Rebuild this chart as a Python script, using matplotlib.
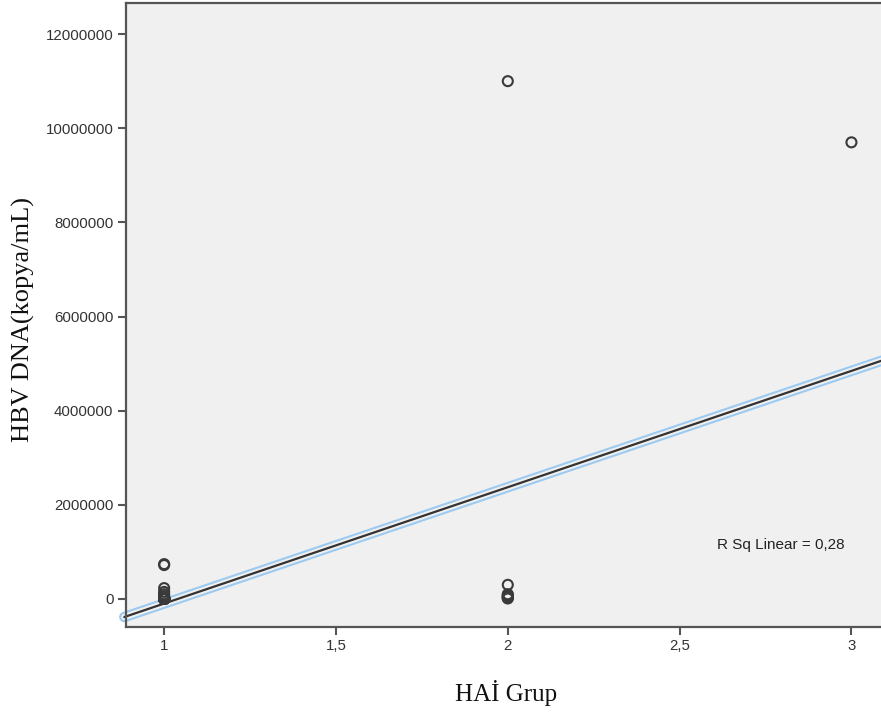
import numpy as np
import matplotlib
matplotlib.use("Agg")
import matplotlib.pyplot as plt
import matplotlib.patheffects as pe

# HAI group 1, 2, 3 -> HBV DNA (kopya/mL)
grup1_dna = [740000, 720000, 230000, 150000, 100000, 60000, 40000, 30000, 20000, 10000,
             5000, 4000, 3000, 2500, 2000, 1500, 1000, 800, 600, 500,
             400, 300, 200, 100, 50, 0, 0, 0]
grup2_dna = [11000000, 300000, 100000, 80000, 60000, 50000, 30000, 20000, 10000]
grup3_dna = [9700000]

x_ticks = [1, 1.5, 2, 2.5, 3]
x_tick_labels = ["1", "1,5", "2", "2,5", "3"]
y_ticks = [0, 2000000, 4000000, 6000000, 8000000, 10000000, 12000000]
r_sq_text = "R Sq Linear = 0,28"

x = np.array([1] * len(grup1_dna) + [2] * len(grup2_dna) + [3] * len(grup3_dna), dtype=float)
y = np.array(grup1_dna + grup2_dna + grup3_dna, dtype=float)

fig = plt.figure(figsize=(8.81, 7.2), dpi=100)
ax = fig.add_axes([126 / 881, 93 / 720, 755 / 881, 624 / 720])
ax.set_facecolor("#f0f0f0")

xmin, xmax = 0.889, 3.086
ax.set_xlim(xmin, xmax)
ax.set_ylim(-596000, 12660000)

# fit line
slope, intercept = np.polyfit(x, y, 1)
xs = np.array([xmin - 0.005, xmax + 0.05])
ax.plot(xs, intercept + slope * xs, color="#333333", lw=1.6, solid_capstyle="round",
        path_effects=[pe.Stroke(linewidth=7.5, foreground="#9ccaf0"),
                      pe.Stroke(linewidth=4.5, foreground="#f0f0f0"),
                      pe.Normal()], zorder=2, clip_on=False)

ax.scatter(x, y, s=52, facecolors="none", edgecolors="#3a3a3a", linewidths=1.5, zorder=3)

ax.text((717 - 126) / 755, (627 - 545) / 624, r_sq_text, transform=ax.transAxes,
        fontsize=11, family="Liberation Sans", color="#222222", va="center", ha="left")

ax.set_xticks(x_ticks)
ax.set_xticklabels(x_tick_labels)
ax.set_yticks(y_ticks)
ax.set_yticklabels([str(v) for v in y_ticks])
for lab in ax.get_xticklabels() + ax.get_yticklabels():
    lab.set_family("Liberation Sans")
    lab.set_fontsize(10.8)
    lab.set_color("#333333")
ax.tick_params(direction="out", length=6, width=1.5, color="#555555", pad=3)

for s in ["left", "bottom", "top"]:
    ax.spines[s].set_color("#555555")
    ax.spines[s].set_linewidth(1.6)
    ax.spines[s].set_zorder(4)
ax.spines["right"].set_visible(False)

fig.text(23 / 881, 1 - 320 / 720, "HBV DNA(kopya/mL)", rotation=90, family="Liberation Serif",
         fontsize=19, ha="center", va="center", color="#111111")
fig.text(506 / 881, 1 - 693 / 720, "HAİ Grup", family="Liberation Serif",
         fontsize=18, ha="center", va="center", color="#111111")

fig.savefig("out.png", dpi=100)
